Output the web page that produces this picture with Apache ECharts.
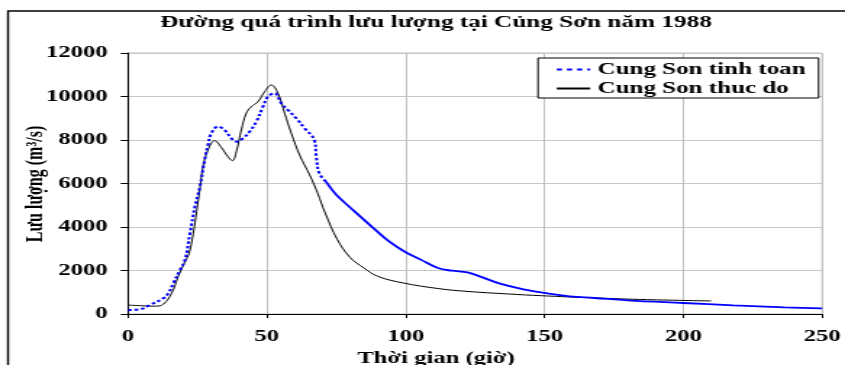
<!DOCTYPE html>
<html>
<head>
<meta charset="utf-8">
<script src="https://cdn.jsdelivr.net/npm/echarts@6/dist/echarts.min.js"></script>
<style>
  html, body { margin: 0; padding: 0; background: #fff; overflow: hidden; }
  /* the original picture is an Excel chart stretched sideways, so draw narrow and stretch */
  #chart { width: 583px; height: 365px; transform: scaleX(1.4494); transform-origin: 0 0; }
</style>
</head>
<body>
<div id="chart"></div>
<script>
var SX = 845 / 583; // horizontal stretch

var chartTitle = 'Đường quá trình lưu lượng tại Củng Sơn năm 1988';
var xTitle = 'Thời gian (giờ)';
var yTitle = 'Lưu lượng (m³/s)';
var seriesNames = ['Cung Son tinh toan', 'Cung Son thuc do'];

// tinh toan (computed)
var compT = [0, 4.3, 7.9, 12.7, 14.5, 16.3, 18.7, 20.5, 22.3, 24.1, 25.9, 27.6, 28.8, 30, 32.4, 34.8, 37.2, 39, 41.4, 43.8, 46.2, 48.6, 50.4, 52.8, 55.2, 57.6, 60.6, 63.6, 67.1, 67.8, 68.9, 71.3,
             75, 80, 89, 94, 100, 105.4, 111.6, 116.6, 122.2, 126.6, 134, 143, 150, 159, 168, 180, 200, 218, 236.5, 250];
var compQ = [184, 215, 414, 720, 951, 1410, 2023, 2483, 3710, 4934, 5853, 7081, 7771, 8308, 8614, 8460, 8077, 7924, 8077, 8385, 8844, 9534, 9994, 10148, 9688, 9380, 8998, 8538, 8001, 7234, 6469, 6085,
             5480, 4900, 3880, 3340, 2840, 2500, 2115, 1990, 1916, 1732, 1395, 1119, 966, 812, 736, 629, 506, 400, 307, 260];
var dotUntil = 71.3;

// thuc do (observed)
var obsT = [0, 5, 10, 12.7, 15.7, 18, 20.5, 22, 23.5, 24.7, 26, 27, 28.8, 31.2, 33.6, 36, 37.6, 39, 40.8, 42.6, 44.4, 46.8, 49.2, 51.6, 54, 56.4, 58.8, 61.8, 65.4, 68.3, 71, 75.4, 80, 85, 90, 99, 112, 122, 137, 149, 168, 187, 210];
var obsQ = [410, 380, 360, 450, 950, 1700, 2400, 2800, 3700, 4700, 5850, 6770, 7540, 7970, 7660, 7230, 7050, 7460, 8460, 9230, 9530, 9760, 10220, 10530, 10150, 9230, 8310, 7310, 6400, 5550, 4650, 3420, 2600, 2110, 1730, 1430, 1165, 1040, 920, 840, 740, 660, 600];

var xTicks = [0, 250, 50];
var yTicks = [0, 12000, 2000];

function pairs(t, q, from, to) {
  var out = [];
  for (var i = 0; i < t.length; i++) {
    if (t[i] >= from && t[i] <= to) out.push([t[i], q[i]]);
  }
  return out;
}

var font = 'Liberation Serif, Times New Roman, serif';
var chart = echarts.init(document.getElementById('chart'));

chart.setOption({
  animation: false,
  backgroundColor: '#fff',
  textStyle: { fontFamily: font },
  grid: { left: 128 / SX, right: 583 - 824 / SX, top: 53, bottom: 51, show: true, borderColor: '#c0c0c0', borderWidth: 1 },
  legend: {
    data: [
      { name: seriesNames[0], lineStyle: { type: [3.5, 3.5], width: 2 } },
      { name: seriesNames[1] }
    ],
    orient: 'vertical',
    left: 538 / SX, top: 58,
    padding: [3, 9, 1, 12],
    itemWidth: 23, itemHeight: 12, itemGap: 2,
    itemStyle: { opacity: 0 },
    backgroundColor: '#fff', borderColor: '#000', borderWidth: 1,
    textStyle: { fontFamily: font, fontWeight: 'bold', fontSize: 17.3, color: '#000' }
  },
  xAxis: {
    type: 'value', min: xTicks[0], max: xTicks[1], interval: xTicks[2],
    axisLine: { lineStyle: { color: '#000', width: 1 } },
    axisTick: { show: true, length: 4, lineStyle: { color: '#000' } },
    axisLabel: { margin: 14, fontFamily: font, fontWeight: 'bold', fontSize: 17, color: '#000', formatter: function (v) { return String(v); } },
    splitLine: { show: true, lineStyle: { color: '#c0c0c0', width: 1 } }
  },
  yAxis: {
    type: 'value', min: yTicks[0], max: yTicks[1], interval: yTicks[2],
    axisLine: { show: true, lineStyle: { color: '#000', width: 1 } },
    axisTick: { show: true, length: 5, lineStyle: { color: '#000' } },
    axisLabel: { margin: 14, fontFamily: font, fontWeight: 'bold', fontSize: 17, color: '#000', formatter: function (v) { return String(v); } },
    splitLine: { show: true, lineStyle: { color: '#c8c8c8', width: 1 } }
  },
  graphic: [
    { type: 'rect', z: -10, silent: true, shape: { x: 8 / SX, y: 11, width: 800, height: 600 },
      style: { fill: null, stroke: '#000', lineWidth: 1.4 } },
    { type: 'text', x: 436 / SX, y: 23, style: { text: chartTitle, font: 'bold 17.4px ' + font, fill: '#000', textAlign: 'center', textVerticalAlign: 'middle' } },
    { type: 'text', x: 436 / SX, y: 359, style: { text: xTitle, font: 'bold 17px ' + font, fill: '#000', textAlign: 'center', textVerticalAlign: 'middle' } },
    { type: 'text', x: 36 / SX, y: 184, rotation: Math.PI / 2, style: { text: yTitle, font: 'bold 16px ' + font, fill: '#000', textAlign: 'center', textVerticalAlign: 'middle' } }
  ],
  series: [
    { name: seriesNames[0], type: 'line', data: pairs(compT, compQ, 0, dotUntil), symbol: 'none', smooth: 0.4,
      lineStyle: { color: '#0000ff', width: 2, type: [2.5, 2] }, itemStyle: { color: '#0000ff' }, z: 3 },
    { name: seriesNames[0], type: 'line', data: pairs(compT, compQ, dotUntil, 250), symbol: 'none', smooth: 0.4,
      lineStyle: { color: '#0000ff', width: 1.8 }, itemStyle: { color: '#0000ff' }, z: 3 },
    { name: seriesNames[1], type: 'line', data: pairs(obsT, obsQ, 0, 250), symbol: 'none', smooth: 0.4,
      lineStyle: { color: '#000', width: 1 }, itemStyle: { color: '#000' }, z: 2 }
  ]
});
</script>
</body>
</html>
